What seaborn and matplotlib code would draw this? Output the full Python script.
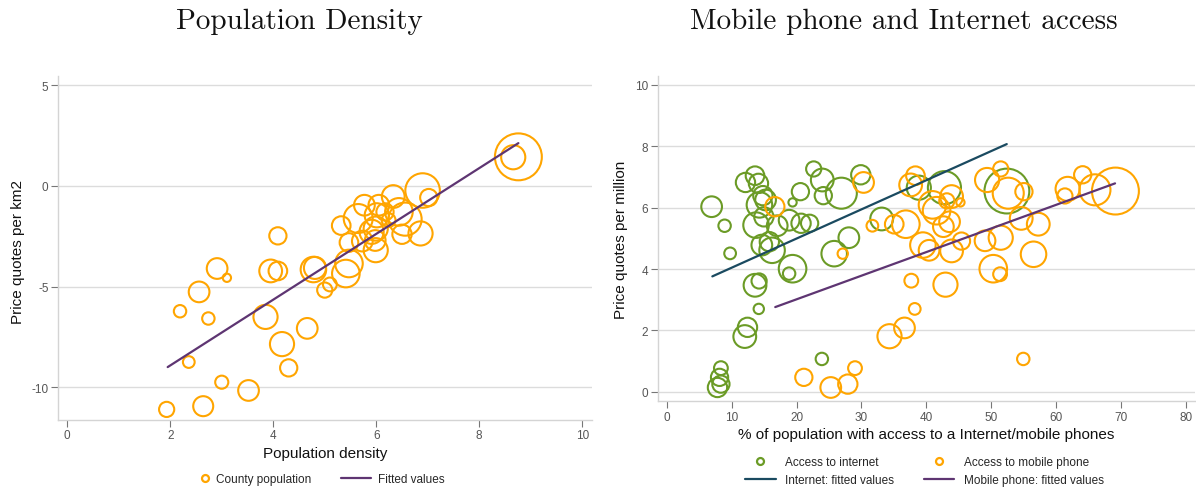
import numpy as np
import pandas as pd
import matplotlib
matplotlib.use("Agg")
import matplotlib.pyplot as plt
import seaborn as sns
from matplotlib.lines import Line2D
from matplotlib.legend_handler import HandlerLine2DCompound

# ---------------- data ----------------
# Left panel: population density vs price quotes per km2
dens_x = [8.76, 8.66, 6.90, 7.02, 6.33, 6.44, 6.56, 6.05, 5.77, 5.65, 6.01, 6.17, 6.24,
          5.32, 6.86, 6.50, 5.91, 5.99, 5.73, 5.47, 5.99, 5.98, 4.09, 5.47, 5.41, 4.78,
          4.81, 5.10, 5.00, 3.95, 4.09, 2.91, 3.10, 2.56, 2.19, 2.74, 3.85, 4.66, 4.17,
          4.30, 2.36, 3.00, 3.52, 1.93, 2.64]
dens_y = [1.44, 1.42, -0.23, -0.58, -0.53, -1.29, -1.65, -0.96, -0.96, -1.62, -1.46, -1.29,
          -1.70, -1.97, -2.36, -2.40, -2.28, -2.12, -2.74, -2.81, -3.19, -2.71, -2.48, -3.85,
          -4.35, -4.15, -4.07, -4.89, -5.17, -4.22, -4.22, -4.10, -4.56, -5.26, -6.22, -6.58,
          -6.50, -7.07, -7.85, -9.03, -8.74, -9.74, -10.15, -11.09, -10.93]
dens_pop = [4624, 1225, 2500, 625, 1089, 1600, 2304, 900, 900, 1764, 1225, 625, 400,
            729, 1225, 784, 1225, 1225, 900, 729, 1225, 900, 625, 1600, 1600, 1369,
            1024, 400, 484, 1089, 729, 900, 144, 900, 324, 324, 1225, 900, 1225,
            625, 289, 361, 900, 484, 841]
dens_fit_x = [1.95, 8.76]
dens_fit_y = [-8.99, 2.12]

# Right panel: access to internet / mobile phone vs price quotes per million
net_x = [6.89, 8.89, 9.74, 12.11, 13.58, 14.11, 14.79, 14.26, 15.21, 13.74, 14.95, 14.63,
         15.79, 16.21, 17.00, 18.84, 20.58, 19.37, 20.68, 22.00, 22.63, 23.95, 24.11, 26.89,
         29.89, 33.11, 28.05, 25.79, 19.37, 18.84, 13.58, 14.21, 14.16, 12.42, 12.00, 23.89,
         8.32, 8.11, 8.32, 7.79, 38.84, 42.79, 52.42]
net_y = [6.03, 5.41, 4.51, 6.82, 7.04, 6.79, 6.39, 6.09, 6.25, 5.43, 5.70, 4.78,
         4.89, 4.61, 5.41, 5.59, 6.52, 6.17, 5.49, 5.49, 7.26, 6.90, 6.39, 6.47,
         7.07, 5.63, 5.02, 4.50, 4.01, 3.85, 3.47, 3.61, 2.70, 2.10, 1.80, 1.07,
         0.77, 0.47, 0.25, 0.14, 6.65, 6.65, 6.54]
net_pop = [900, 324, 289, 784, 729, 784, 784, 1369, 900, 1369, 784, 900,
           784, 1369, 900, 900, 625, 144, 784, 625, 484, 1089, 625, 2025,
           784, 1089, 900, 1369, 1600, 324, 1089, 484, 225, 784, 1089, 324,
           400, 625, 625, 784, 1225, 2304, 4225]

mob_x = [16.63, 30.32, 31.68, 27.11, 35.05, 36.84, 37.58, 38.32, 39.47, 40.42, 40.95, 41.58,
         42.63, 43.58, 43.89, 43.16, 45.26, 43.89, 45.42, 49.05, 51.47, 49.37, 51.47, 52.63,
         55.05, 54.63, 57.26, 56.53, 50.32, 51.37, 61.79, 61.37, 64.11, 66.00, 69.16, 37.68,
         42.95, 38.21, 36.63, 34.32, 54.95, 21.11, 25.26, 27.89, 29.00]
mob_y = [6.03, 6.82, 5.41, 4.50, 5.46, 5.46, 6.74, 7.04, 4.78, 4.61, 6.09, 5.90,
         5.38, 5.54, 6.36, 6.22, 6.17, 4.59, 4.91, 4.92, 5.02, 6.90, 7.26, 6.47,
         6.52, 5.65, 5.46, 4.48, 4.01, 3.83, 6.61, 6.38, 7.07, 6.58, 6.54, 3.62,
         3.49, 2.70, 2.08, 1.81, 1.07, 0.47, 0.14, 0.25, 0.77]
mob_pop = [784, 900, 289, 225, 729, 1600, 1089, 729, 1369, 900, 1600, 1600,
           900, 900, 1089, 484, 144, 1089, 625, 900, 1225, 1225, 484, 2025,
           625, 1089, 1089, 1369, 1600, 400, 1225, 484, 625, 2025, 4624, 400,
           1225, 289, 900, 1225, 324, 625, 900, 784, 400]

net_fit_x = [7.0, 52.4]
net_fit_y = [3.76, 8.07]
mob_fit_x = [16.7, 69.1]
mob_fit_y = [2.76, 6.79]

# ---------------- style ----------------
ORANGE = "#FFA500"
GREEN = "#6B9B26"
NAVY = "#1A4A60"
PURPLE = "#5E3572"
GRID = "#DCDCDC"
SPINE = "#D4D4D4"
TXT = "#555555"

sns.set_theme(style="white")
plt.rcParams["font.family"] = ["Liberation Sans", "DejaVu Sans"]
plt.rcParams["axes.unicode_minus"] = False

fig = plt.figure(figsize=(11.96, 4.89), dpi=100)
axL = fig.add_axes([0.0487, 0.1397, 0.4463, 0.7028])
axR = fig.add_axes([0.5499, 0.1773, 0.4491, 0.6647])

K = 0.2466  # points^2 per population unit
all_pop = dens_pop + net_pop + mob_pop
pmin, pmax = min(all_pop), max(all_pop)
size_kw = dict(sizes=(K * pmin, K * pmax), size_norm=(pmin, pmax))

dfL = pd.DataFrame({"x": dens_x, "y": dens_y, "pop": dens_pop})
sns.scatterplot(data=dfL, x="x", y="y", size="pop", ax=axL, legend=False,
                color=ORANGE, facecolor="none", edgecolor=ORANGE, linewidth=1.5,
                zorder=3, **size_kw)
sns.lineplot(x=dens_fit_x, y=dens_fit_y, ax=axL, color=PURPLE, linewidth=1.6, zorder=4)

dfN = pd.DataFrame({"x": net_x, "y": net_y, "pop": net_pop})
dfM = pd.DataFrame({"x": mob_x, "y": mob_y, "pop": mob_pop})
sns.scatterplot(data=dfN, x="x", y="y", size="pop", ax=axR, legend=False,
                color=GREEN, facecolor="none", edgecolor=GREEN, linewidth=1.5,
                zorder=3, **size_kw)
sns.scatterplot(data=dfM, x="x", y="y", size="pop", ax=axR, legend=False,
                color=ORANGE, facecolor="none", edgecolor=ORANGE, linewidth=1.5,
                zorder=3, **size_kw)
sns.lineplot(x=net_fit_x, y=net_fit_y, ax=axR, color=NAVY, linewidth=1.6, zorder=4)
sns.lineplot(x=mob_fit_x, y=mob_fit_y, ax=axR, color=PURPLE, linewidth=1.6, zorder=4)


def style_axes(ax, xlim, ylim, xticks, yticks):
    ax.set_xlim(*xlim)
    ax.set_ylim(*ylim)
    ax.set_xticks(xticks)
    ax.set_yticks(yticks)
    for s in ["top", "right"]:
        ax.spines[s].set_visible(False)
    for s in ["left", "bottom"]:
        ax.spines[s].set_color(SPINE)
        ax.spines[s].set_linewidth(1.0)
    ax.yaxis.grid(True, color=GRID, linewidth=1.0)
    ax.xaxis.grid(False)
    ax.set_axisbelow(True)
    ax.tick_params(axis="both", which="major", length=5, width=0.8, color="#777777",
                   labelcolor=TXT, labelsize=8.5, direction="out", bottom=True, left=True, pad=2)


style_axes(axL, (-0.175, 10.19), (-11.6, 5.45), [0, 2, 4, 6, 8, 10], [5, 0, -5, -10])
style_axes(axR, (-1.43, 81.4), (-0.31, 10.28), list(range(0, 81, 10)), [0, 2, 4, 6, 8, 10])

axL.set_xlabel("Population density", fontsize=11, color="#111111", labelpad=3)
axL.set_ylabel("Price quotes per km2", fontsize=11, color="#111111", labelpad=3)
axL.yaxis.set_label_coords(-0.062, 0.49)
axR.set_xlabel("% of population with access to a Internet/mobile phones", fontsize=11,
               color="#111111", labelpad=3)
axR.set_ylabel("Price quotes per million", fontsize=11, color="#111111", labelpad=3)
axR.yaxis.set_label_coords(-0.056, 0.5)

fig.text(0.25, 0.955, "Population Density", family="cmr10", fontsize=21,
         ha="center", va="center", color="#111111")
fig.text(0.756, 0.955, "Mobile phone and Internet access", family="cmr10", fontsize=21,
         ha="center", va="center", color="#111111")


class MarkerRightHandler(HandlerLine2DCompound):
    """Draw a marker key near the right end of its legend key area."""
    def get_xdata(self, legend, xdescent, ydescent, width, height, fontsize):
        xdata, _ = super().get_xdata(legend, xdescent, ydescent, width, height, fontsize)
        return xdata, np.array([width - xdescent - 3.0])


# legends
mk = dict(marker="o", linestyle="none", markersize=5, markerfacecolor="none", markeredgewidth=1.6)
mL = Line2D([], [], color=ORANGE, **mk)
hL = [mL, Line2D([], [], color=PURPLE, linewidth=1.6)]
fig.legend(hL, ["County population", "Fitted values"], loc="center",
           bbox_to_anchor=(0.2605, 0.018), ncol=2, frameon=False, fontsize=8.5,
           handlelength=2.6, columnspacing=2.5, handletextpad=0.6,
           handler_map={mL: MarkerRightHandler()})

mN = Line2D([], [], color=GREEN, **mk)
mM = Line2D([], [], color=ORANGE, **mk)
hR = [mN, Line2D([], [], color=NAVY, linewidth=1.6),
      mM, Line2D([], [], color=PURPLE, linewidth=1.6)]
fig.legend(hR, ["Access to internet", "Internet: fitted values",
                "Access to mobile phone", "Mobile phone: fitted values"], loc="center",
           bbox_to_anchor=(0.773, 0.034), ncol=2, frameon=False, fontsize=8.5,
           handlelength=2.6, columnspacing=2.5, handletextpad=0.8, labelspacing=0.5)

fig.savefig("out.png", dpi=100)
